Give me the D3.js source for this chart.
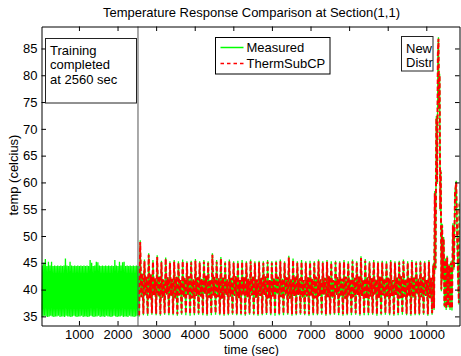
<!DOCTYPE html>
<html>
<head>
<meta charset="utf-8">
<script src="https://cdn.jsdelivr.net/npm/d3@7"></script>
<style>
  body { margin: 0; background: #fff; }
  svg { display: block; font-family: "Liberation Sans", Arial, sans-serif; }
</style>
</head>
<body>
<svg id="chart" width="461" height="356"></svg>
<script>
'use strict';

const chart_title = 'Temperature Response Comparison at Section(1,1)';
const x_label = 'time (sec)';
const y_label = 'temp (celcius)';
const x_ticks = [1000, 2000, 3000, 4000, 5000, 6000, 7000, 8000, 9000, 10000];
const y_ticks = [35, 40, 45, 50, 55, 60, 65, 70, 75, 80, 85];
const series_names = ['Measured', 'ThermSubCP'];

// training period: measured only, one trough + one peak every 40 sec from t=30
const training_start = 30;
const training_step = 40;
const training_peaks = [
  44.5, 45.0, 45.7, 44.4, 45.2, 44.5, 45.2, 44.4, 44.5, 44.4,
  44.5, 44.4, 44.5, 44.4, 44.5, 45.8, 44.5, 44.4, 45.2, 44.5,
  44.4, 44.5, 44.4, 44.5, 44.4, 44.5, 44.4, 44.5, 44.4, 44.5,
  44.4, 45.5, 45.0, 44.4, 44.5, 45.2, 45.1, 44.5, 44.4, 44.5,
  44.4, 44.5, 44.4, 44.5, 44.4, 44.5, 44.4, 45.5, 44.5, 44.4,
  45.2, 44.5, 45.1, 45.2, 44.4, 44.5, 44.4, 44.5, 44.4, 44.5,
  44.4, 44.5, 44.4
];
const training_troughs = [
  35.0, 34.9, 35.1, 35.0, 34.9, 35.0, 35.1, 35.0, 34.9, 35.0,
  35.0, 35.1, 34.9, 35.0, 35.0, 34.9, 35.1, 35.0, 35.0, 34.9,
  35.0, 35.1, 35.0, 34.9, 35.0, 35.0, 35.1, 34.9, 35.0, 35.0,
  34.9, 35.0, 35.1, 35.0, 34.9, 35.0, 35.0, 35.1, 34.9, 35.0,
  35.0, 34.9, 35.1, 35.0, 35.0, 34.9, 35.0, 35.1, 35.0, 34.9,
  35.0, 35.0, 35.1, 34.9, 35.0, 35.0, 34.9, 35.1, 35.0, 35.0,
  34.9, 35.0, 35.1
];

const training_line = 2530;

// after training: one heating cycle every 110 sec, 4 readings per cycle
const cycle_start = 2560;
const cycle_length = 110;
const model_peaks = [
  48.9, 45.3, 46.5, 45.2, 46.1, 45.1, 45.8, 45.0, 45.2, 45.0,
  45.3, 45.0, 45.1, 45.4, 45.0, 45.2, 45.0, 46.5, 45.2, 45.8,
  45.0, 45.3, 45.0, 45.1, 45.2, 45.0, 45.3, 45.0, 45.1, 45.0,
  45.2, 45.0, 45.1, 45.3, 45.0, 46.0, 45.5, 45.0, 45.2, 45.0,
  45.1, 45.0, 45.3, 45.0, 45.2, 45.0, 45.1, 45.0, 45.2, 45.0,
  45.3, 45.0, 45.9, 45.4, 45.0, 45.2, 45.0, 45.1, 45.0, 45.2,
  45.0, 45.1, 45.3, 45.0, 45.2, 45.0, 45.1, 45.0, 45.2
];
const model_troughs = [
  35.2, 35.5, 35.4, 35.6, 35.5, 35.4, 35.6, 35.5, 35.5, 35.4,
  35.6, 35.5, 35.4, 35.5, 35.6, 35.5, 35.4, 35.5, 35.6, 35.5,
  35.4, 35.5, 35.6, 35.5, 35.5, 35.4, 35.6, 35.5, 35.4, 35.5,
  35.6, 35.5, 35.4, 35.5, 35.5, 35.6, 35.4, 35.5, 35.6, 35.5,
  35.4, 35.5, 35.5, 35.6, 35.4, 35.5, 35.6, 35.5, 35.4, 35.5,
  35.5, 35.6, 35.4, 35.5, 35.5, 35.6, 35.4, 35.5, 35.6, 35.5,
  35.4, 35.5, 35.6, 35.5, 35.4, 35.5, 35.5, 35.6, 35.4
];
const model_mid_low = [
  38.6, 38.9, 38.4, 39.0, 38.7, 38.5, 39.1, 38.8, 38.3, 38.9,
  38.6, 39.0, 38.4, 38.8, 38.7, 39.2, 38.5, 38.9, 38.6, 38.3,
  39.0, 38.7, 38.8, 38.4, 39.1, 38.6, 38.9, 38.5, 38.8, 39.0,
  38.4, 38.7, 39.1, 38.6, 38.9, 38.3, 38.8, 39.0, 38.5, 38.7,
  38.9, 38.4, 38.8, 39.1, 38.6, 38.5, 39.0, 38.7, 38.3, 38.9,
  38.6, 39.0, 38.8, 38.4, 38.7, 39.1, 38.5, 38.9, 38.6, 38.8,
  39.0, 38.4, 38.7, 38.9, 38.5, 39.1, 38.6, 38.8, 38.4
];
const model_mid_high = [
  43.0, 42.4, 42.8, 42.1, 42.5, 41.9, 42.3, 42.0, 42.4, 41.8,
  42.2, 42.5, 41.9, 42.3, 42.0, 42.6, 41.8, 42.4, 42.1, 42.3,
  41.9, 42.2, 42.5, 41.8, 42.3, 42.0, 42.4, 41.9, 42.2, 42.5,
  41.8, 42.1, 42.4, 42.0, 42.3, 41.9, 42.5, 42.1, 41.8, 42.3,
  42.0, 42.4, 41.9, 42.2, 42.5, 41.8, 42.3, 42.0, 42.4, 41.9,
  42.2, 42.5, 41.8, 42.3, 42.1, 41.9, 42.4, 42.0, 42.2, 41.8,
  42.3, 42.5, 41.9, 42.1, 42.4, 42.0, 42.3, 41.8, 42.2
];
const measured_peaks = [
  49.2, 45.6, 46.8, 45.5, 46.4, 45.4, 46.0, 45.3, 45.5, 45.3,
  45.6, 45.3, 45.4, 45.7, 45.3, 45.5, 45.3, 46.8, 45.5, 46.1,
  45.3, 45.6, 45.3, 45.4, 45.5, 45.3, 45.6, 45.3, 45.4, 45.3,
  45.5, 45.3, 45.4, 45.6, 45.3, 46.3, 45.8, 45.3, 45.5, 45.3,
  45.4, 45.3, 45.6, 45.3, 45.5, 45.3, 45.4, 45.3, 45.5, 45.3,
  45.6, 45.3, 46.2, 45.7, 45.3, 45.5, 45.3, 45.4, 45.3, 45.5,
  45.3, 45.4, 45.6, 45.3, 45.5, 45.3, 45.4, 45.3, 45.5
];
const measured_troughs = [
  35.0, 35.2, 35.1, 35.3, 35.2, 35.1, 35.3, 35.2, 35.2, 35.1,
  35.3, 35.2, 35.1, 35.2, 35.3, 35.2, 35.1, 35.2, 35.3, 35.2,
  35.1, 35.2, 35.3, 35.2, 35.2, 35.1, 35.3, 35.2, 35.1, 35.2,
  35.3, 35.2, 35.1, 35.2, 35.2, 35.3, 35.1, 35.2, 35.3, 35.2,
  35.1, 35.2, 35.2, 35.3, 35.1, 35.2, 35.3, 35.2, 35.1, 35.2,
  35.2, 35.3, 35.1, 35.2, 35.2, 35.3, 35.1, 35.2, 35.3, 35.2,
  35.1, 35.2, 35.3, 35.2, 35.1, 35.2, 35.2, 35.3, 35.1
];

// new disturbance at the end: irregular readings
const tail_times = [10150, 10180, 10200, 10220, 10240, 10260, 10280, 10300, 10315, 10330,
  10345, 10360, 10375, 10390, 10410, 10430, 10450, 10470, 10495, 10515,
  10540, 10565, 10590, 10615, 10640, 10665, 10690, 10715, 10745, 10775,
  10800, 10825, 10845, 10860];
const tail_model = [35.6, 44.5, 36.5, 58.0, 44.0, 72.0, 60.0, 84.0, 86.8, 74.0,
  80.0, 55.0, 62.0, 40.0, 52.0, 42.0, 49.5, 37.0, 45.5, 36.5,
  46.0, 37.0, 44.5, 36.5, 45.0, 36.5, 52.0, 44.0, 58.0, 60.0,
  50.0, 42.0, 37.5, 56.0];
const tail_measured = [35.3, 44.8, 36.2, 58.4, 43.7, 72.4, 59.7, 84.3, 87.1, 73.7,
  80.3, 54.7, 62.3, 39.7, 52.3, 41.7, 49.8, 36.7, 45.8, 36.2,
  46.3, 36.7, 44.8, 36.2, 45.3, 36.1, 52.4, 43.7, 58.3, 60.3,
  49.7, 41.7, 37.2, 56.3];

const training_note = ['Training', 'completed', 'at 2560 sec'];
const disturbance_note = ['New', 'Distr'];

// --- build series ---
function cycles(peaks, troughs) {
  const out = [];
  const q = cycle_length / 4;
  peaks.forEach((p, i) => {
    const t0 = cycle_start + i * cycle_length;
    out.push([t0, troughs[i]]);
    out.push([t0 + q, p]);
    out.push([t0 + 2 * q, model_mid_low[i]]);
    out.push([t0 + 3 * q, model_mid_high[i]]);
  });
  return out;
}

const measured = [];
training_peaks.forEach((p, k) => {
  const t0 = training_start + k * training_step;
  measured.push([t0, training_troughs[k]]);
  measured.push([t0 + training_step / 2, p]);
});
cycles(measured_peaks, measured_troughs).forEach(d => measured.push(d));
tail_times.forEach((t, i) => measured.push([t, tail_measured[i]]));

const model = cycles(model_peaks, model_troughs);
tail_times.forEach((t, i) => model.push([t, tail_model[i]]));

// --- layout ---
const margin = { left: 41.5, right: 459.5, top: 26.5, bottom: 325.5 };
const svg = d3.select('#chart');

const x = d3.scaleLinear().domain([30, 10860]).range([margin.left, margin.right]);
const y = d3.scaleLinear().domain([33.3, 89.1]).range([margin.bottom, margin.top]);

svg.append('defs').append('clipPath').attr('id', 'plot-clip')
  .append('rect')
  .attr('x', margin.left).attr('y', margin.top)
  .attr('width', margin.right - margin.left).attr('height', margin.bottom - margin.top);

const line = d3.line().x(d => x(d[0])).y(d => y(d[1]));

const plot = svg.append('g').attr('clip-path', 'url(#plot-clip)');

plot.append('path').datum(measured)
  .attr('d', line)
  .attr('fill', 'none')
  .attr('stroke', '#00ff00')
  .attr('stroke-width', 1.3);

plot.append('path').datum(model)
  .attr('d', line)
  .attr('fill', 'none')
  .attr('stroke', '#ff0000')
  .attr('stroke-width', 2)
  .attr('stroke-dasharray', '4.5,2.5');

// training end marker
svg.append('line')
  .attr('x1', x(training_line)).attr('x2', x(training_line))
  .attr('y1', margin.top).attr('y2', margin.bottom)
  .attr('stroke', '#555').attr('stroke-width', 1);

// axes, MATLAB style box with inward ticks
const font_size = 13;
function style_axis(g) {
  g.select('.domain').attr('stroke', '#000');
  g.selectAll('.tick line').attr('stroke', '#000');
  g.selectAll('text').attr('font-size', font_size).attr('fill', '#000')
    .attr('font-family', '"Liberation Sans", Arial, sans-serif');
}

svg.append('g')
  .attr('transform', `translate(0,${margin.bottom})`)
  .call(d3.axisBottom(x).tickValues(x_ticks).tickFormat(d3.format('d'))
    .tickSizeInner(-4.5).tickSizeOuter(0).tickPadding(4.5))
  .call(style_axis);

svg.append('g')
  .attr('transform', `translate(0,${margin.top})`)
  .call(d3.axisTop(x).tickValues(x_ticks).tickFormat('')
    .tickSizeInner(-4.5).tickSizeOuter(0))
  .call(style_axis);

svg.append('g')
  .attr('transform', `translate(${margin.left},0)`)
  .call(d3.axisLeft(y).tickValues(y_ticks).tickFormat(d3.format('d'))
    .tickSizeInner(-4.5).tickSizeOuter(0).tickPadding(4))
  .call(style_axis);

svg.append('g')
  .attr('transform', `translate(${margin.right},0)`)
  .call(d3.axisRight(y).tickValues(y_ticks).tickFormat('')
    .tickSizeInner(-4.5).tickSizeOuter(0))
  .call(style_axis);

// titles
svg.append('text')
  .attr('x', 251.5).attr('y', 17)
  .attr('text-anchor', 'middle')
  .attr('font-size', font_size)
  .text(chart_title);

svg.append('text')
  .attr('x', 251.5).attr('y', 353.5)
  .attr('text-anchor', 'middle')
  .attr('font-size', 12.5)
  .text(x_label);

svg.append('text')
  .attr('transform', 'translate(17.5,175) rotate(-90)')
  .attr('text-anchor', 'middle')
  .attr('font-size', font_size)
  .text(y_label);

// text boxes
function note_box(lines, bx, by, bw, bh, clip_id) {
  svg.append('defs').append('clipPath').attr('id', clip_id)
    .append('rect').attr('x', bx).attr('y', by).attr('width', bw).attr('height', bh);
  svg.append('rect')
    .attr('x', bx).attr('y', by).attr('width', bw).attr('height', bh)
    .attr('fill', '#fff').attr('stroke', '#222').attr('stroke-width', 1);
  const g = svg.append('g').attr('clip-path', `url(#${clip_id})`);
  lines.forEach((t, i) => {
    g.append('text')
      .attr('x', bx + 4.5).attr('y', by + 16 + i * 14.5)
      .attr('font-size', font_size)
      .text(t);
  });
}
note_box(training_note, 45.5, 38.5, 91, 64.5, 'clip-train');
note_box(disturbance_note, 401.5, 36.5, 31.5, 34.5, 'clip-dist');

// legend
const legend = svg.append('g');
legend.append('rect')
  .attr('x', 215.5).attr('y', 37.5).attr('width', 114.5).attr('height', 36.5)
  .attr('fill', '#fff').attr('stroke', '#000').attr('stroke-width', 1);
const legend_styles = [
  { color: '#00ff00', dash: null },
  { color: '#ff0000', dash: '3.5,3' }
];
series_names.forEach((name, i) => {
  const ly = 47.5 + i * 16;
  legend.append('line')
    .attr('x1', 220.5).attr('x2', 243.5).attr('y1', ly).attr('y2', ly)
    .attr('stroke', legend_styles[i].color)
    .attr('stroke-width', 1.5)
    .attr('stroke-dasharray', legend_styles[i].dash);
  legend.append('text')
    .attr('x', 246.5).attr('y', ly + 4.6)
    .attr('font-size', font_size)
    .text(name);
});
</script>
</body>
</html>
